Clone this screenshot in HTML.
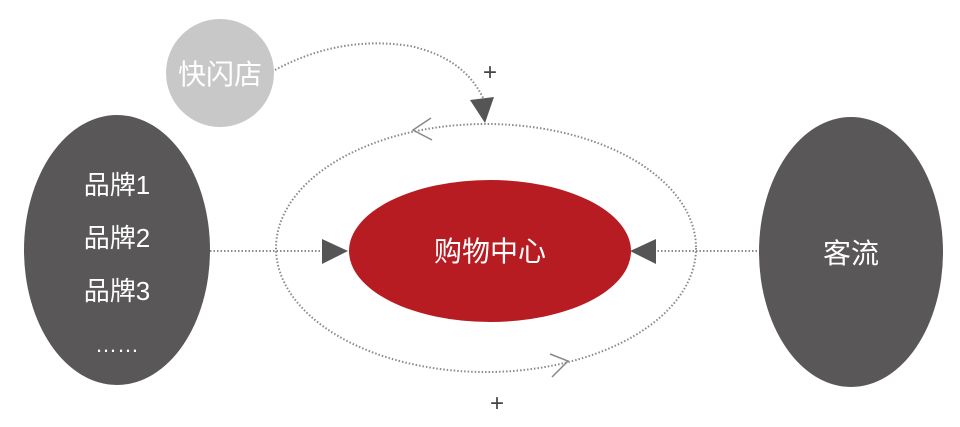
<!DOCTYPE html>
<html><head><meta charset="utf-8"><style>
html,body{margin:0;padding:0;background:#fff;}
svg{display:block;}
text{font-family:"Liberation Sans","Noto Sans CJK SC",sans-serif;}
</style></head><body>
<svg width="960" height="427" viewBox="0 0 960 427">
<g fill="none" stroke="#8a8a8a" stroke-width="2" stroke-dasharray="1.5 2">
<ellipse cx="486" cy="248" rx="210" ry="124"/>
<line x1="210" y1="251" x2="325" y2="251"/>
<line x1="654" y1="251" x2="760" y2="251"/>
<path d="M275 70 Q340 35 410 46 Q465 58 484 100"/>
</g>
<polygon points="470,100 494,97 485,123" fill="#555"/>
<polygon points="322,239 348,251 322,264" fill="#555"/>
<polygon points="656,239 630,251 656,264" fill="#555"/>
<g fill="none" stroke="#888" stroke-width="1.5">
<polyline points="431,118 413,130 432,140"/>
<polyline points="550,354 568,361 552,377"/>
</g>
<circle cx="220" cy="73" r="54" fill="#c8c8c8"/>
<text x="220" y="84" font-size="28" fill="#fff" text-anchor="middle">快闪店</text>
<ellipse cx="117" cy="250" rx="93" ry="135" fill="#595757"/>
<g font-size="26" fill="#fff" text-anchor="middle">
<text x="117" y="194">品牌1</text>
<text x="117" y="247">品牌2</text>
<text x="117" y="300">品牌3</text>
<text x="117" y="352" font-size="22">……</text>
</g>
<ellipse cx="851" cy="252" rx="92" ry="135" fill="#595757"/>
<text x="851" y="263" font-size="28" fill="#fff" text-anchor="middle">客流</text>
<ellipse cx="490" cy="251" rx="141" ry="71" fill="#b71c22"/>
<text x="490" y="261" font-size="28" fill="#fff" text-anchor="middle">购物中心</text>
<g font-size="24" fill="#444" text-anchor="middle">
<text x="490" y="80">+</text>
<text x="497" y="411">+</text>
</g>
</svg>
</body></html>
